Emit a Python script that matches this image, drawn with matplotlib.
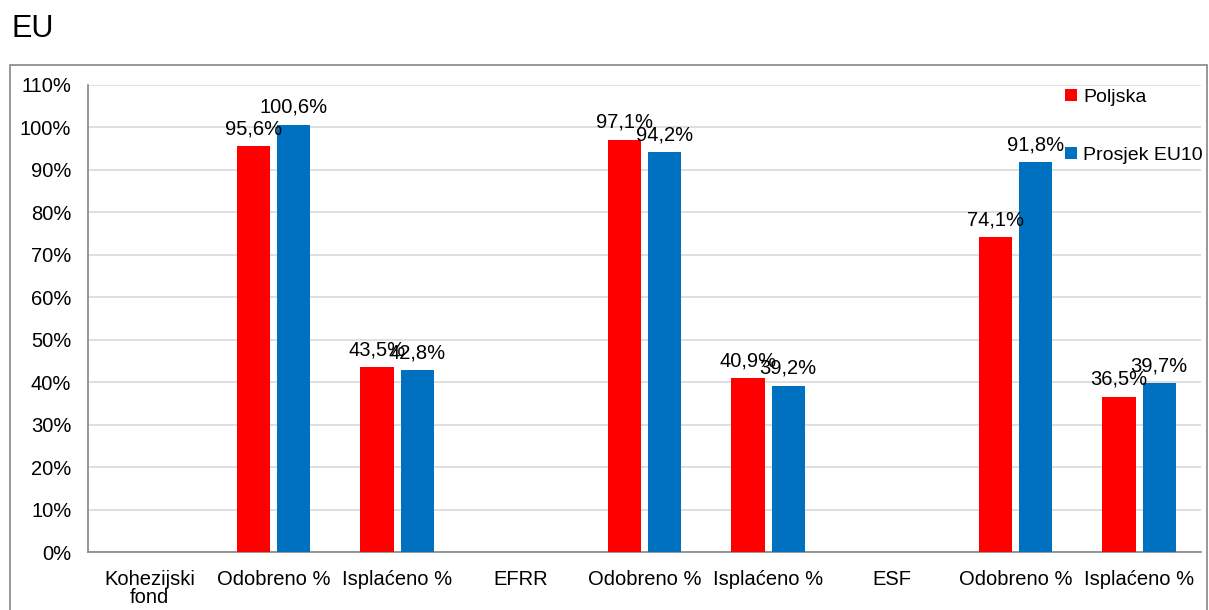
import matplotlib.pyplot as plt
import numpy as np
from matplotlib.patches import Rectangle

plt.rcParams['font.family'] = ['Liberation Sans', 'DejaVu Sans']

categories = ["Kohezijski\nfond", "Odobreno %", "Isplaćeno %", "EFRR", "Odobreno %",
              "Isplaćeno %", "ESF", "Odobreno %", "Isplaćeno %"]
poljska = [None, 95.6, 43.5, None, 97.1, 40.9, None, 74.1, 36.5]
prosjek = [None, 100.6, 42.8, None, 94.2, 39.2, None, 91.8, 39.7]
series_names = ["Poljska", "Prosjek EU10"]
colors = ["#ff0000", "#0070c0"]


def fmt(v):
    return f"{v:.1f}%".replace(".", ",")


fig = plt.figure(figsize=(12.09, 6.10), dpi=100)
W, H = 1209, 610
ax = fig.add_axes([88 / W, 1 - 552 / H, (1201 - 88) / W, (552 - 85) / H])

# outer chart border
fig.patches.append(Rectangle((10 / W, -0.01), 1197 / W, 1 - 65 / H + 0.01,
                             transform=fig.transFigure, fill=False,
                             edgecolor="#868686", lw=1.2))
fig.text(11 / W, 1 - 29 / H, "EU", fontsize=22, va="center", ha="left")

fs = 14.5
x = np.arange(len(categories))
w = 0.27
off = 0.162
for vals, sign, c, name in [(poljska, -1, colors[0], series_names[0]),
                            (prosjek, 1, colors[1], series_names[1])]:
    xs = [xi + sign * off for xi, v in zip(x, vals) if v is not None]
    ys = [v for v in vals if v is not None]
    ax.bar(xs, ys, width=w, color=c, label=name, zorder=3)
    for xi, yi in zip(xs, ys):
        ax.text(xi, yi + 1.9, fmt(yi), ha="center", va="bottom", fontsize=fs, zorder=4)

ax.set_xlim(-0.5, len(categories) - 0.5)
ax.set_ylim(0, 110)
ax.set_yticks(np.arange(0, 111, 10))
ax.set_yticklabels([f"{t}%" for t in range(0, 111, 10)], fontsize=fs)
ax.set_xticks(x)
ax.set_xticklabels(categories, fontsize=fs, linespacing=0.95)
ax.tick_params(axis="y", length=0, pad=12)
ax.tick_params(axis="x", length=0, pad=13)
ax.grid(axis="y", color="#d9d9d9", lw=1.2, zorder=0)
for s in ["top", "right"]:
    ax.spines[s].set_visible(False)
for s in ["left", "bottom"]:
    ax.spines[s].set_color("#868686")
    ax.spines[s].set_linewidth(1.2)

leg = ax.legend(loc="upper left", bbox_to_anchor=(0.866, 1.021), frameon=False,
                fontsize=14, handlelength=0.6, handleheight=0.6, handletextpad=0.3,
                labelspacing=2.1, borderaxespad=0.3)

fig.savefig("out.png", dpi=100)
